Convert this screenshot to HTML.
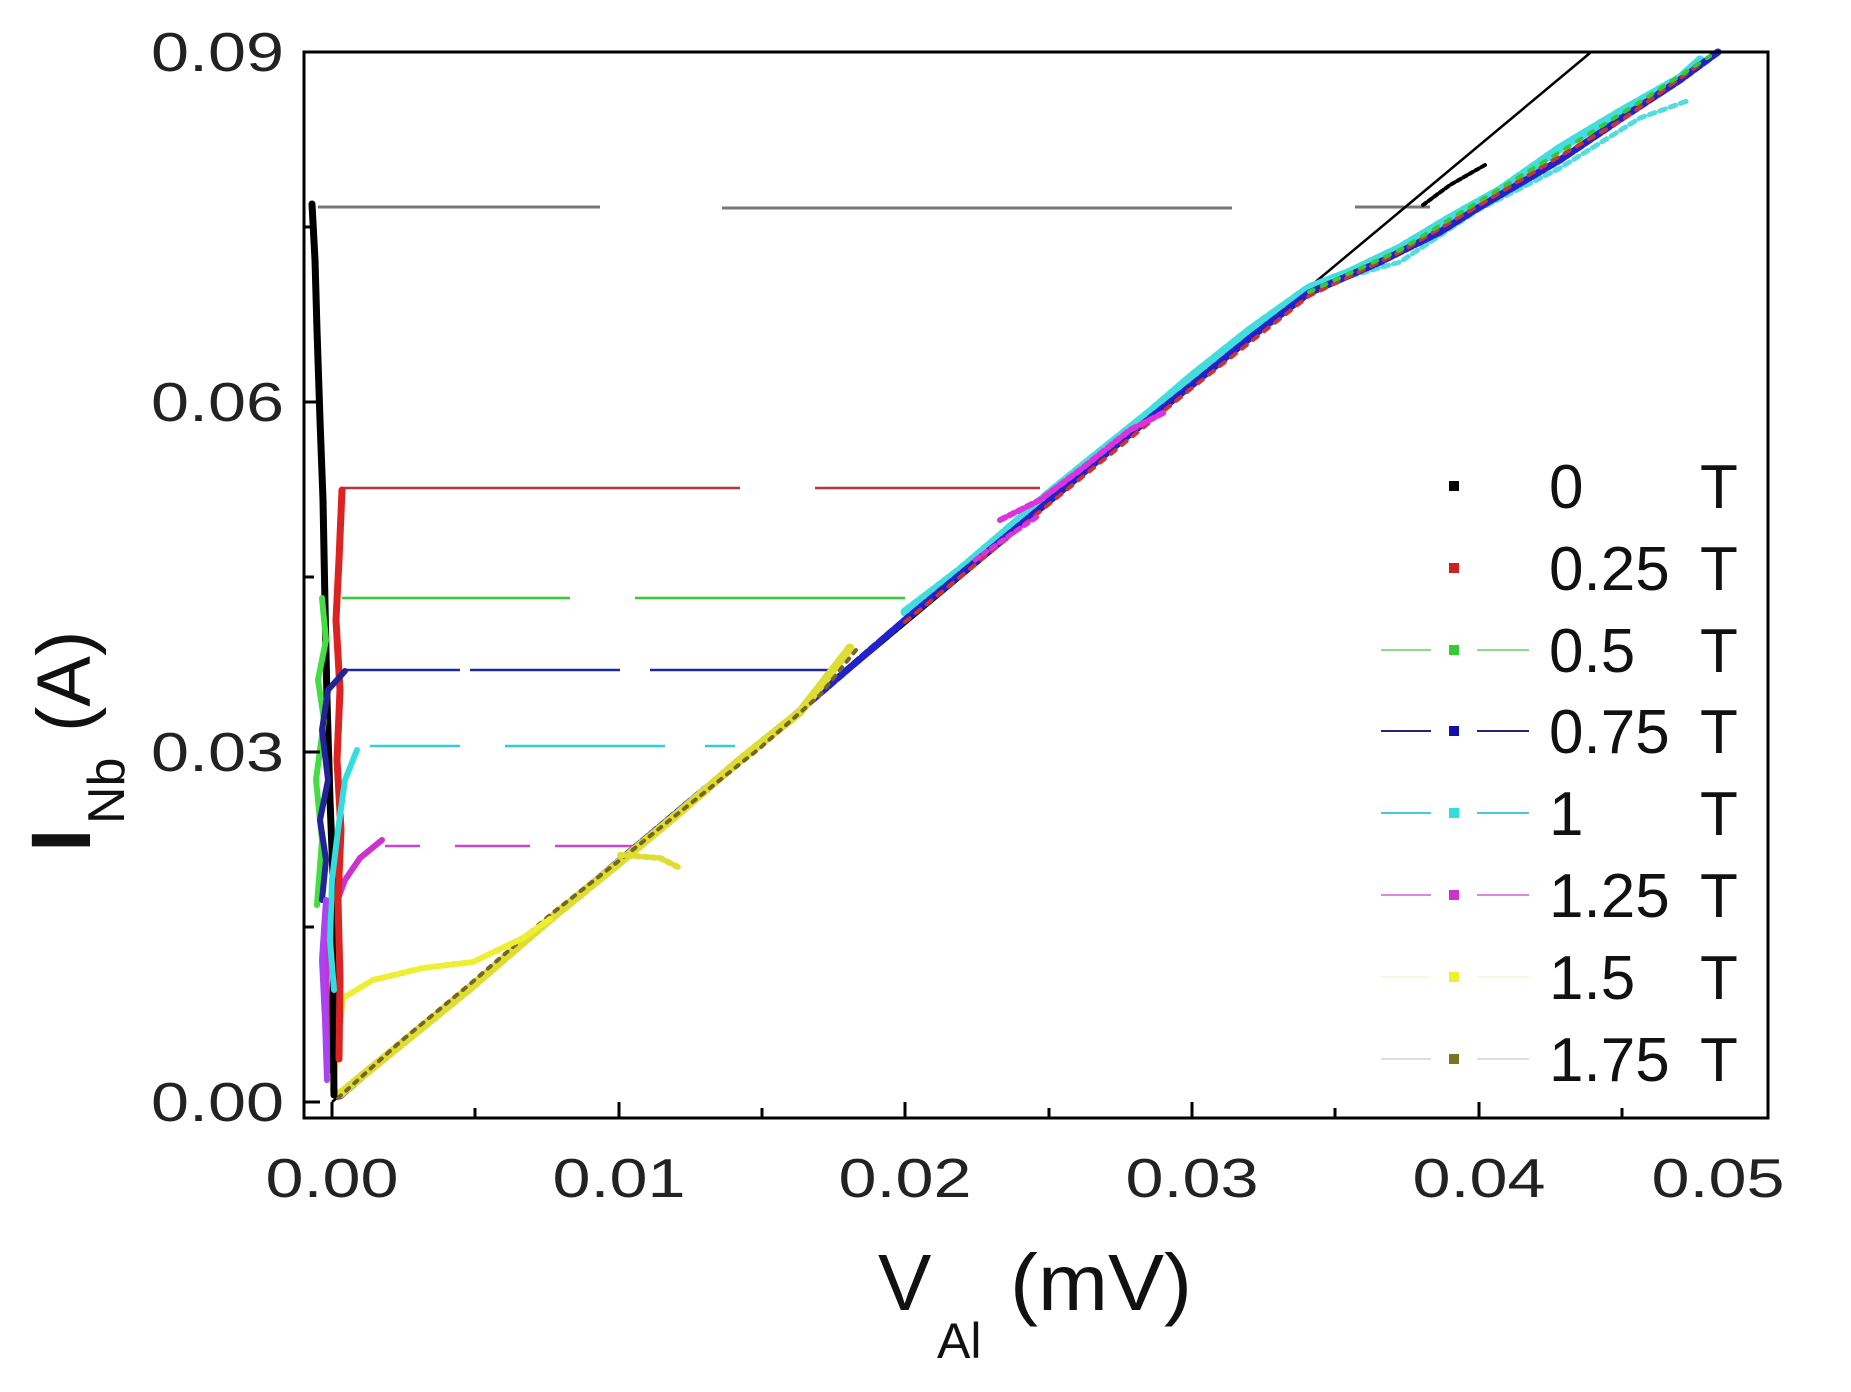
<!DOCTYPE html>
<html><head><meta charset="utf-8"><style>
html,body{margin:0;padding:0;background:#fff;}
svg{display:block;font-family:"Liberation Sans",Arial,sans-serif;}
</style></head><body>
<svg width="1851" height="1392" viewBox="0 0 1851 1392" xmlns="http://www.w3.org/2000/svg">
<rect width="1851" height="1392" fill="#fff"/>

<!-- horizontal jump lines -->
<g fill="none" stroke-width="3">
<path d="M318 207 H600 M722 208 H1232 M1355 207 H1430" stroke="#777"/>
<path d="M343 488 H525 M525 488 H740 M815 488 H1040" stroke="#b33" stroke-width="2.5"/>
<path d="M342 598 H570 M635 598 H905" stroke="#3c3" stroke-width="2.5"/>
<path d="M343 670 H460 M470 670 H620 M650 670 H835" stroke="#1a2a9a" stroke-width="2.5"/>
<path d="M370 746 H460 M505 746 H665 M705 746 H735" stroke="#3cd" stroke-width="2.5"/>
<path d="M385 846 H420 M455 846 H530 M555 846 H640" stroke="#c4c" stroke-width="2.5"/>
</g>

<!-- fit line -->
<line x1="332" y1="1102" x2="1590" y2="53" stroke="#000" stroke-width="2.5"/>

<!-- main data band -->
<g fill="none" stroke-linecap="round" stroke-linejoin="round">
<polyline points="905,612 960,570 1000,536 1048,494 1100,452 1150,412 1192,376 1250,330 1309,288 1350,272 1400,248 1450,218 1500,190 1560,148 1620,112 1680,78 1700,60" stroke="#4dd" stroke-width="9" stroke-dasharray="7 3"/>
<polyline points="1330,282 1400,262 1478,210 1560,168 1640,118 1690,100" stroke="#5dd" stroke-width="5" stroke-dasharray="6 5"/>
<polyline points="340,1096 389,1054 470,987 550,919 619,861 700,793 760,745 905,620 1048,502 1120,442 1192,385 1250,338 1309,293 1380,262 1440,232 1478,208 1560,160 1622,118 1680,80 1718,52" stroke="#22c" stroke-width="7" stroke-dasharray="8 3"/>
<polyline points="905,622 1048,505 1192,388 1309,296 1400,252 1478,206 1560,156 1622,120 1700,64" stroke="#c33" stroke-width="4" stroke-dasharray="6 8"/>
<polyline points="1309,292 1400,250 1478,202 1560,152 1640,102 1710,56" stroke="#3c3" stroke-width="4" stroke-dasharray="5 9"/>
<polyline points="1000,520 1040,500 1080,470 1130,430 1165,412" stroke="#d3d" stroke-width="6" stroke-dasharray="6 4"/>
<polyline points="975,560 1010,535 1040,515" stroke="#d3d" stroke-width="5" stroke-dasharray="5 5"/>
<polyline points="1423,205 1450,185 1485,165" stroke="#000" stroke-width="4" stroke-dasharray="4 3"/>
<!-- yellow & olive along line -->
<polyline points="340,1094 400,1045 470,988 550,919 620,862 680,812 740,760 800,712 850,648" stroke="#dd3" stroke-width="9" stroke-dasharray="6 3"/>
<polyline points="338,1098 400,1042 470,984 550,915 620,860 690,804 760,748 820,695 860,645" stroke="#776622" stroke-width="4" stroke-dasharray="4 7"/>
<polyline points="620,855 660,858 680,868" stroke="#dd3" stroke-width="6" stroke-dasharray="4 4"/>
<!-- yellow curve -->
<polyline points="333,1089 343,998 373,980 423,968 473,962 523,938 550,919" stroke="#ee3" stroke-width="6" stroke-dasharray="6 3"/>
<!-- magenta curve -->
<polyline points="382,840 360,858 345,880 330,920 326,980 328,1040 330,1070" stroke="#c3c" stroke-width="6"/>
<!-- verticals -->
<polyline points="312,204 315,260 317,330 320,420 323,500 325,604 327,700 330,800 334,900 333,1000 334,1095" stroke="#000" stroke-width="7"/>
<polyline points="342,490 339,560 336,620 340,690 337,760 341,830 338,900 340,980 339,1059" stroke="#d22" stroke-width="7"/>
<polyline points="322,598 326,640 318,680 324,720 316,780 322,840 317,905" stroke="#4d4" stroke-width="6"/>
<polyline points="345,671 328,690 322,730 328,780 320,820 326,860 322,900" stroke="#229" stroke-width="6"/>
<polyline points="357,750 345,780 338,830 332,880 330,940 334,990" stroke="#3dd" stroke-width="6"/>
<polyline points="326,900 322,960 325,1020 327,1080" stroke="#a4e" stroke-width="6"/>
</g>

<!-- frame -->
<rect x="304" y="52" width="1464" height="1066" fill="none" stroke="#000" stroke-width="3"/>
<g stroke="#000" stroke-width="3">
<line x1="332" y1="1118" x2="332" y2="1102"/><line x1="475" y1="1118" x2="475" y2="1108"/>
<line x1="619" y1="1118" x2="619" y2="1102"/><line x1="762" y1="1118" x2="762" y2="1108"/>
<line x1="905" y1="1118" x2="905" y2="1102"/><line x1="1049" y1="1118" x2="1049" y2="1108"/>
<line x1="1192" y1="1118" x2="1192" y2="1102"/><line x1="1335" y1="1118" x2="1335" y2="1108"/>
<line x1="1479" y1="1118" x2="1479" y2="1102"/><line x1="1622" y1="1118" x2="1622" y2="1108"/>
<line x1="304" y1="1102" x2="320" y2="1102"/><line x1="304" y1="927" x2="314" y2="927"/>
<line x1="304" y1="752" x2="320" y2="752"/><line x1="304" y1="577" x2="314" y2="577"/>
<line x1="304" y1="402" x2="320" y2="402"/><line x1="304" y1="227" x2="314" y2="227"/>
</g>

<!-- tick labels -->
<g font-size="55" fill="#222">
<text x="284" y="71" text-anchor="end" textLength="133" lengthAdjust="spacingAndGlyphs">0.09</text>
<text x="284" y="421" text-anchor="end" textLength="133" lengthAdjust="spacingAndGlyphs">0.06</text>
<text x="284" y="771" text-anchor="end" textLength="133" lengthAdjust="spacingAndGlyphs">0.03</text>
<text x="284" y="1121" text-anchor="end" textLength="133" lengthAdjust="spacingAndGlyphs">0.00</text>
<g text-anchor="middle">
<text x="332" y="1197" textLength="133" lengthAdjust="spacingAndGlyphs">0.00</text>
<text x="619" y="1197" textLength="133" lengthAdjust="spacingAndGlyphs">0.01</text>
<text x="905" y="1197" textLength="133" lengthAdjust="spacingAndGlyphs">0.02</text>
<text x="1192" y="1197" textLength="133" lengthAdjust="spacingAndGlyphs">0.03</text>
<text x="1479" y="1197" textLength="133" lengthAdjust="spacingAndGlyphs">0.04</text>
<text x="1718" y="1197" textLength="133" lengthAdjust="spacingAndGlyphs">0.05</text>
</g>
</g>

<!-- axis labels -->
<g fill="#111">
<text x="878" y="1310" font-size="80">V</text>
<text x="937" y="1358" font-size="50">Al</text>
<text x="1010" y="1310" font-size="80" textLength="182" lengthAdjust="spacingAndGlyphs">(mV)</text>
<g transform="translate(90,852) rotate(-90)">
<text x="0" y="0" font-size="84" font-weight="bold">I</text>
<text x="28" y="34" font-size="52">Nb</text>
<text x="120" y="0" font-size="76">(A)</text>
</g>
</g>

<!-- legend -->
<g font-size="62" fill="#111">
<g transform="translate(0,486)"><rect x="1449" y="-5" width="10" height="10" fill="#000"/><text x="1549" y="22">0</text><text x="1700" y="22">T</text></g>
<g transform="translate(0,568)"><rect x="1449" y="-5" width="10" height="10" fill="#c22"/><text x="1549" y="22">0.25</text><text x="1700" y="22">T</text></g>
<g transform="translate(0,650)"><line x1="1381" x2="1431" y1="0" y2="0" stroke="#8d8" stroke-width="2"/><line x1="1477" x2="1529" y1="0" y2="0" stroke="#8d8" stroke-width="2"/><rect x="1449" y="-5" width="10" height="10" fill="#3c3"/><text x="1549" y="22">0.5</text><text x="1700" y="22">T</text></g>
<g transform="translate(0,731)"><line x1="1381" x2="1431" y1="0" y2="0" stroke="#227" stroke-width="2"/><line x1="1477" x2="1529" y1="0" y2="0" stroke="#227" stroke-width="2"/><rect x="1449" y="-5" width="10" height="10" fill="#11a"/><text x="1549" y="22">0.75</text><text x="1700" y="22">T</text></g>
<g transform="translate(0,813)"><line x1="1381" x2="1431" y1="0" y2="0" stroke="#4cd" stroke-width="2"/><line x1="1477" x2="1529" y1="0" y2="0" stroke="#4cd" stroke-width="2"/><rect x="1449" y="-5" width="10" height="10" fill="#3dd"/><text x="1549" y="22">1</text><text x="1700" y="22">T</text></g>
<g transform="translate(0,895)"><line x1="1381" x2="1431" y1="0" y2="0" stroke="#d8d" stroke-width="2"/><line x1="1477" x2="1529" y1="0" y2="0" stroke="#d8d" stroke-width="2"/><rect x="1449" y="-5" width="10" height="10" fill="#c3c"/><text x="1549" y="22">1.25</text><text x="1700" y="22">T</text></g>
<g transform="translate(0,977)"><line x1="1381" x2="1431" y1="0" y2="0" stroke="#f8f8e0" stroke-width="2"/><line x1="1477" x2="1529" y1="0" y2="0" stroke="#f8f8e0" stroke-width="2"/><rect x="1449" y="-5" width="10" height="10" fill="#ee3"/><text x="1549" y="22">1.5</text><text x="1700" y="22">T</text></g>
<g transform="translate(0,1059)"><line x1="1381" x2="1431" y1="0" y2="0" stroke="#ddd" stroke-width="2"/><line x1="1477" x2="1529" y1="0" y2="0" stroke="#ddd" stroke-width="2"/><rect x="1449" y="-5" width="10" height="10" fill="#772"/><text x="1549" y="22">1.75</text><text x="1700" y="22">T</text></g>
</g>
</svg>
</body></html>
